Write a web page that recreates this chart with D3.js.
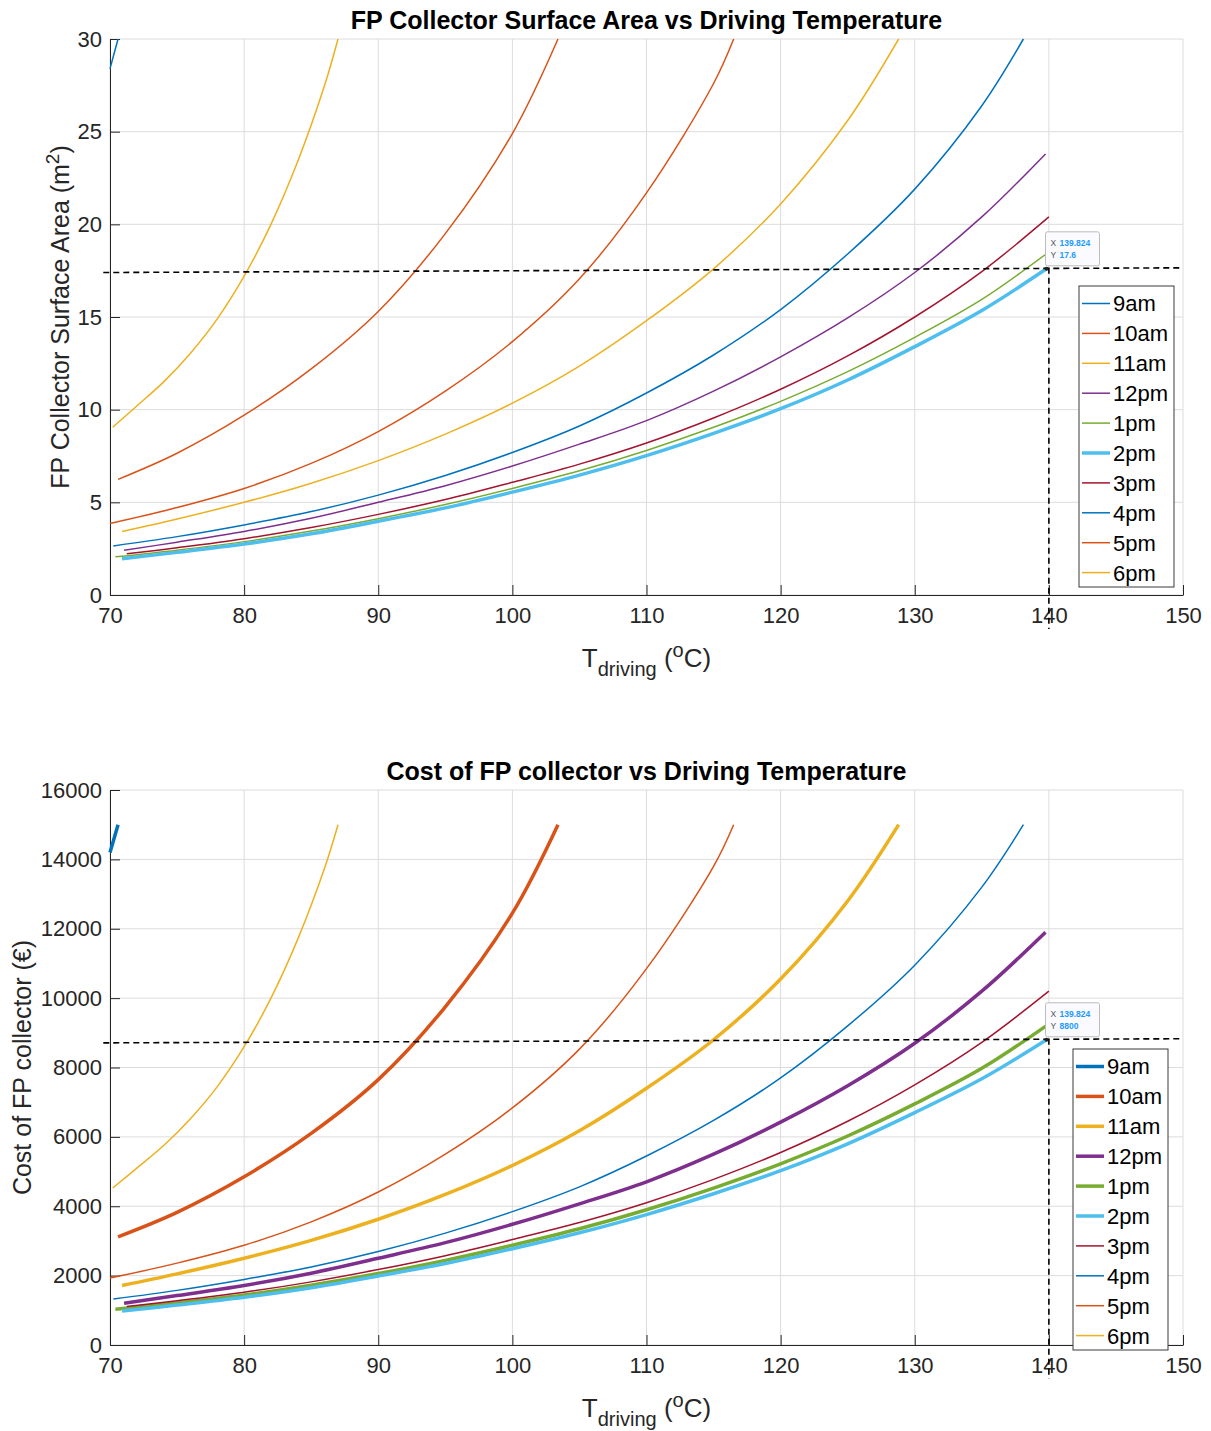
<!DOCTYPE html>
<html>
<head>
<meta charset="utf-8">
<script src="https://cdn.jsdelivr.net/npm/d3@7"></script>
<style>
  body { margin: 0; background: #fff; }
  svg { display: block; font-family: "Liberation Sans", Arial, Helvetica, sans-serif; }
</style>
</head>
<body>
<svg id="chart" width="1211" height="1431"></svg>
<script>
// ---- data: [T_driving (°C), value] ----
const seriesNames = ['9am', '10am', '11am', '12pm', '1pm', '2pm', '3pm', '4pm', '5pm', '6pm'];
const seriesColors = ['#0072BD', '#D95319', '#EDB120', '#7E2F8E', '#77AC30', '#4DBEEE', '#A2142F', '#0072BD', '#D95319', '#EDB120'];

// collector area (m^2)
const area9am = [[70.0, 28.4], [70.6, 30.0]];
const area10am = [[70.6, 6.24], [75, 7.65], [80, 9.7], [85, 12.2], [90, 15.3], [95, 19.5], [100, 24.9], [103.4, 30.0]];
const area11am = [[70.9, 3.43], [75, 4.1], [80, 5.0], [85, 6.03], [90, 7.25], [95, 8.68], [100, 10.35], [105, 12.35], [110, 14.8], [115, 17.6], [120, 21.1], [125, 25.6], [128.8, 30.0]];
const area12pm = [[71.05, 2.41], [75, 2.85], [80, 3.43], [85, 4.14], [90, 5.0], [95, 5.9], [100, 6.96], [105, 8.14], [110, 9.41], [115, 11.0], [120, 12.85], [125, 14.95], [130, 17.4], [135, 20.4], [139.75, 23.8]];
const area1pm = [[70.4, 2.06], [75, 2.42], [80, 2.88], [85, 3.45], [90, 4.12], [95, 4.88], [100, 5.75], [105, 6.7], [110, 7.8], [115, 9.05], [120, 10.45], [125, 12.05], [130, 13.9], [135, 15.95], [139.8, 18.4]];
const area2pm = [[70.9, 1.96], [75, 2.3], [80, 2.75], [85, 3.3], [90, 3.98], [95, 4.7], [100, 5.55], [105, 6.47], [110, 7.52], [115, 8.72], [120, 10.05], [125, 11.6], [130, 13.4], [135, 15.35], [139.824, 17.6]];
const area3pm = [[71.25, 2.22], [75, 2.55], [80, 3.04], [85, 3.64], [90, 4.35], [95, 5.15], [100, 6.08], [105, 7.06], [110, 8.2], [115, 9.55], [120, 11.1], [125, 12.9], [130, 15.0], [135, 17.45], [140, 20.4]];
const area4pm = [[70.25, 2.65], [75, 3.15], [80, 3.78], [85, 4.5], [90, 5.39], [95, 6.45], [100, 7.69], [105, 9.12], [110, 10.9], [115, 12.95], [120, 15.4], [125, 18.4], [130, 21.9], [135, 26.4], [138.1, 30.0]];
const area5pm = [[70.0, 3.86], [75, 4.72], [80, 5.75], [85, 7.1], [90, 8.82], [95, 11.0], [100, 13.67], [105, 17.06], [110, 21.7], [115, 27.6], [116.5, 30.0]];
const area6pm = [[70.2, 9.05], [72, 10.2], [74, 11.5], [76, 13.05], [78, 14.9], [80, 17.2], [82, 20.0], [84, 23.4], [86, 27.5], [87.0, 30.0]];

// collector cost (€)
const cost9am = [[70.0, 14200], [70.6, 15000]];
const cost10am = [[70.6, 3120], [75, 3825], [80, 4850], [85, 6100], [90, 7650], [95, 9750], [100, 12450], [103.4, 15000]];
const cost11am = [[70.9, 1715], [75, 2050], [80, 2500], [85, 3015], [90, 3625], [95, 4340], [100, 5175], [105, 6175], [110, 7400], [115, 8800], [120, 10550], [125, 12800], [128.8, 15000]];
const cost12pm = [[71.05, 1205], [75, 1425], [80, 1715], [85, 2070], [90, 2500], [95, 2950], [100, 3480], [105, 4070], [110, 4705], [115, 5500], [120, 6425], [125, 7475], [130, 8700], [135, 10200], [139.75, 11900]];
const cost1pm = [[70.4, 1030], [75, 1210], [80, 1440], [85, 1725], [90, 2060], [95, 2440], [100, 2875], [105, 3350], [110, 3900], [115, 4525], [120, 5225], [125, 6025], [130, 6950], [135, 7975], [139.8, 9200]];
const cost2pm = [[70.9, 980], [75, 1150], [80, 1375], [85, 1650], [90, 1990], [95, 2350], [100, 2775], [105, 3235], [110, 3760], [115, 4360], [120, 5025], [125, 5800], [130, 6700], [135, 7675], [139.824, 8800]];
const cost3pm = [[71.25, 1110], [75, 1275], [80, 1520], [85, 1820], [90, 2175], [95, 2575], [100, 3040], [105, 3530], [110, 4100], [115, 4775], [120, 5550], [125, 6450], [130, 7500], [135, 8725], [140, 10200]];
const cost4pm = [[70.25, 1325], [75, 1575], [80, 1890], [85, 2250], [90, 2695], [95, 3225], [100, 3845], [105, 4560], [110, 5450], [115, 6475], [120, 7700], [125, 9200], [130, 10950], [135, 13200], [138.1, 15000]];
const cost5pm = [[70.0, 1930], [75, 2360], [80, 2875], [85, 3550], [90, 4410], [95, 5500], [100, 6835], [105, 8530], [110, 10850], [115, 13800], [116.5, 15000]];
const cost6pm = [[70.2, 4525], [72, 5100], [74, 5750], [76, 6525], [78, 7450], [80, 8600], [82, 10000], [84, 11700], [86, 13750], [87.0, 15000]];

const xTicks = [70, 80, 90, 100, 110, 120, 130, 140, 150];
const areaTicks = [0, 5, 10, 15, 20, 25, 30];
const costTicks = [0, 2000, 4000, 6000, 8000, 10000, 12000, 14000, 16000];

// data tips and guide lines
const areaTip = [139.824, 17.6];
const areaGuideY = 17.4;
const costTip = [139.824, 8800];
const costGuideY = 8710;

const areaSeries = [area9am, area10am, area11am, area12pm, area1pm, area2pm, area3pm, area4pm, area5pm, area6pm];
const costSeries = [cost9am, cost10am, cost11am, cost12pm, cost1pm, cost2pm, cost3pm, cost4pm, cost5pm, cost6pm];

const svg = d3.select('#chart');
const textColor = '#262626';

function drawPanel(p) {
    const x = d3.scaleLinear().domain([70, 150]).range([p.left, p.right]);
    const y = d3.scaleLinear().domain([0, p.yMax]).range([p.bottom, p.top]);
    const g = svg.append('g');

    // grid
    g.append('g').selectAll('line').data(xTicks).join('line')
        .attr('x1', d => x(d)).attr('x2', d => x(d))
        .attr('y1', p.top).attr('y2', p.bottom)
        .attr('stroke', '#dcdcdc').attr('stroke-width', 1);
    g.append('g').selectAll('line').data(p.yTicks).join('line')
        .attr('x1', p.left).attr('x2', p.right)
        .attr('y1', d => y(d)).attr('y2', d => y(d))
        .attr('stroke', '#dcdcdc').attr('stroke-width', 1);

    // axes (ticks point inward, like MATLAB)
    const xAxis = g.append('g')
        .attr('transform', `translate(0,${p.bottom})`)
        .call(d3.axisBottom(x).tickValues(xTicks).tickSizeInner(-10).tickSizeOuter(0).tickPadding(12));
    const yAxis = g.append('g')
        .attr('transform', `translate(${p.left},0)`)
        .call(d3.axisLeft(y).tickValues(p.yTicks).tickFormat(d3.format('d')).tickSizeInner(-10).tickSizeOuter(0).tickPadding(8));
    [xAxis, yAxis].forEach(a => {
        a.select('.domain').attr('stroke', textColor);
        a.selectAll('.tick line').attr('stroke', textColor);
        a.selectAll('.tick text').attr('fill', textColor).style('font-size', '22px');
    });

    // curves
    const line = d3.line().x(d => x(d[0])).y(d => y(d[1])).curve(d3.curveCatmullRom.alpha(0.5));
    g.append('g').selectAll('path').data(p.series).join('path')
        .attr('d', line)
        .attr('fill', 'none')
        .attr('stroke', (d, i) => seriesColors[i])
        .attr('stroke-width', (d, i) => p.widths[i]);

    // guide lines through the data tip
    g.append('line')
        .attr('x1', x(69.5)).attr('x2', x(150))
        .attr('y1', y(p.guideY)).attr('y2', y(p.tip[1]) - 1)
        .attr('stroke', '#000').attr('stroke-width', 1.6).attr('stroke-dasharray', '6,4');
    g.append('line')
        .attr('x1', x(140)).attr('x2', x(140))
        .attr('y1', y(p.tip[1]) - 1).attr('y2', p.bottom + 34)
        .attr('stroke', '#000').attr('stroke-width', 1.6).attr('stroke-dasharray', '6,4');

    // data tip
    const tx = x(p.tip[0]), ty = y(p.tip[1]);
    g.append('circle').attr('cx', tx).attr('cy', ty).attr('r', 2).attr('fill', '#222');
    const tip = g.append('g').attr('transform', `translate(${tx - 1},${ty - 37})`);
    tip.append('rect').attr('width', 54).attr('height', 34).attr('rx', 2)
        .attr('fill', '#fafaff').attr('stroke', '#bdbdbd');
    [['X', d3.format('.3f')(p.tip[0]), 14], ['Y', String(p.tip[1]), 26]].forEach(r => {
        tip.append('text').attr('x', 5).attr('y', r[2]).attr('fill', '#555')
            .style('font-size', '8.5px').text(r[0]);
        tip.append('text').attr('x', 14).attr('y', r[2]).attr('fill', '#1a9bff')
            .style('font-size', '8.5px').style('font-weight', 'bold').text(r[1]);
    });

    // legend
    const lg = g.append('g').attr('transform', `translate(${p.legendX},${p.legendY})`);
    lg.append('rect').attr('width', 95).attr('height', 301)
        .attr('fill', '#fff').attr('stroke', '#3a3a3a').attr('stroke-width', 1);
    seriesNames.forEach((name, i) => {
        const yy = 17.5 + i * 29.9;
        lg.append('line').attr('x1', 3).attr('x2', 31).attr('y1', yy).attr('y2', yy)
            .attr('stroke', seriesColors[i]).attr('stroke-width', p.widths[i]);
        lg.append('text').attr('x', 34).attr('y', yy).attr('dy', '0.36em')
            .attr('fill', '#000').style('font-size', '22px').text(name);
    });

    // title
    g.append('text').attr('x', (p.left + p.right) / 2).attr('y', p.top - 10)
        .attr('text-anchor', 'middle').attr('fill', '#000')
        .style('font-size', '25px').style('font-weight', 'bold').text(p.title);

    // x label: T_driving (°C)
    const xl = g.append('text').attr('x', (p.left + p.right) / 2).attr('y', p.bottom + 72)
        .attr('text-anchor', 'middle').attr('fill', textColor).style('font-size', '26px');
    xl.append('tspan').text('T');
    xl.append('tspan').attr('dy', 9).style('font-size', '20px').text('driving');
    xl.append('tspan').attr('dy', -9).text(' (');
    xl.append('tspan').attr('dy', -10).style('font-size', '20px').text('o');
    xl.append('tspan').attr('dy', 10).text('C)');

    // y label
    const yl = g.append('text')
        .attr('transform', `translate(${p.ylabelX},${(p.top + p.bottom) / 2}) rotate(-90)`)
        .attr('text-anchor', 'middle').attr('dy', '0.35em')
        .attr('fill', textColor).style('font-size', '25px');
    p.ylabel(yl);
}

drawPanel({
    top: 39, bottom: 595, left: 110, right: 1183,
    yMax: 30, yTicks: areaTicks, series: areaSeries,
    widths: [1.5, 1.5, 1.5, 1.5, 1.5, 3.5, 1.5, 1.5, 1.5, 1.5],
    tip: areaTip, guideY: areaGuideY,
    legendX: 1079, legendY: 286,
    title: 'FP Collector Surface Area vs Driving Temperature',
    ylabelX: 60,
    ylabel: t => {
        t.append('tspan').text('FP Collector Surface Area (m');
        t.append('tspan').attr('dy', -10).style('font-size', '19px').text('2');
        t.append('tspan').attr('dy', 10).text(')');
    }
});

drawPanel({
    top: 790, bottom: 1345, left: 110, right: 1183,
    yMax: 16000, yTicks: costTicks, series: costSeries,
    widths: [3.5, 3.5, 3.5, 3.5, 3.5, 3.5, 1.5, 1.5, 1.5, 1.5],
    tip: costTip, guideY: costGuideY,
    legendX: 1073, legendY: 1049,
    title: 'Cost of FP collector vs Driving Temperature',
    ylabelX: 22,
    ylabel: t => t.text('Cost of FP collector (€)')
});
</script>
</body>
</html>
